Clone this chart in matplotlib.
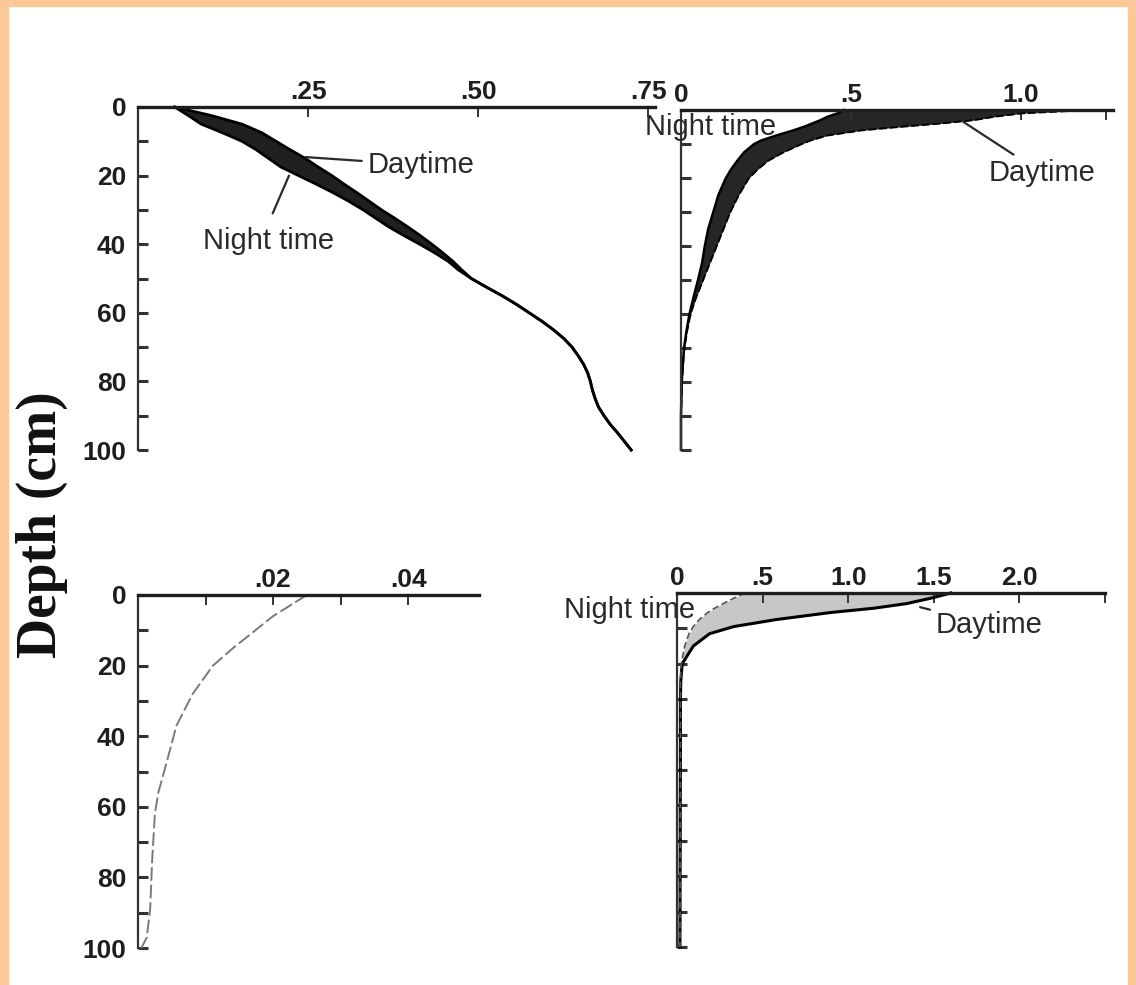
import matplotlib
matplotlib.use("Agg")
import matplotlib.pyplot as plt
from matplotlib.patches import Rectangle

# depth (cm) and values
p1_depth = [0, 2.5, 5, 7.5, 10, 12.5, 15, 17.5, 20, 22.5, 25, 27.5, 30, 32.5, 35, 37.5, 40,
            42.5, 45, 47.5, 50, 52.5, 55, 57.5, 60, 62.5, 65, 67.5, 70, 72.5, 75, 77.5, 80,
            82.5, 85, 87.5, 90, 92.5, 95, 97.5, 100]
p1_day = [0.054, 0.108, 0.153, 0.182, 0.203, 0.224, 0.246, 0.265, 0.285, 0.303, 0.322, 0.34,
          0.358, 0.378, 0.397, 0.415, 0.432, 0.448, 0.463, 0.476, 0.49, 0.512, 0.535, 0.556,
          0.575, 0.594, 0.611, 0.626, 0.638, 0.647, 0.655, 0.661, 0.665, 0.668, 0.672,
          0.677, 0.685, 0.694, 0.705, 0.715, 0.725]
p1_night = [0.054, 0.074, 0.093, 0.124, 0.153, 0.174, 0.192, 0.21, 0.236, 0.262, 0.287, 0.31,
            0.331, 0.35, 0.369, 0.391, 0.414, 0.436, 0.456, 0.471, 0.49, 0.512, 0.535, 0.556,
            0.575, 0.594, 0.611, 0.626, 0.638, 0.647, 0.655, 0.661, 0.665, 0.668, 0.672,
            0.677, 0.685, 0.694, 0.705, 0.715, 0.725]

p2_depth = [0, 1, 2, 3, 4, 5, 6, 7.5, 9, 10, 12.5, 15, 17.5, 20, 25, 30, 35, 40, 45, 50, 55,
            60, 65, 70, 75, 80, 90, 100]
p2_day = [1.2, 1.0, 0.92, 0.86, 0.76, 0.64, 0.53, 0.43, 0.38, 0.355, 0.3, 0.255, 0.225, 0.2,
          0.17, 0.145, 0.125, 0.105, 0.085, 0.065, 0.045, 0.028, 0.018, 0.01, 0.006, 0.003,
          0.0, 0.0]
p2_night = [0.48, 0.46, 0.43, 0.41, 0.385, 0.36, 0.33, 0.28, 0.235, 0.215, 0.185, 0.165,
            0.147, 0.132, 0.11, 0.095, 0.08, 0.07, 0.062, 0.05, 0.037, 0.025, 0.016, 0.009,
            0.005, 0.002, 0.0, 0.0]

p3_depth = [0, 6, 15, 20, 28, 37, 47, 56, 62, 75, 89, 97, 100]
p3_value = [0.025, 0.02, 0.0141, 0.0111, 0.0081, 0.0057, 0.0043, 0.003, 0.0025, 0.0021,
            0.0018, 0.0013, 0.0005]

p4_depth = [0, 1.5, 3, 4.3, 5.5, 7.5, 9.5, 11.5, 15, 20, 25, 30, 40, 50, 60, 70, 80, 90, 100]
p4_day = [1.6, 1.48, 1.34, 1.15, 0.9, 0.58, 0.33, 0.19, 0.095, 0.03, 0.022, 0.02, 0.02,
          0.02, 0.019, 0.019, 0.018, 0.018, 0.017]
p4_night = [0.4, 0.33, 0.27, 0.22, 0.18, 0.13, 0.095, 0.07, 0.045, 0.025, 0.02, 0.02, 0.02,
            0.02, 0.019, 0.019, 0.018, 0.018, 0.017]

# axis ticks and labels
depth_ticks = list(range(0, 101, 10))
depth_labels = ["0", "", "20", "", "40", "", "60", "", "80", "", "100"]
p1_xticks = [0.25, 0.50, 0.75]
p1_xlabels = [".25", ".50", ".75"]
p2_xticks = [0, 0.5, 1.0, 1.25]
p2_xlabels = ["0", ".5", "1.0", ""]
p3_xticks = [0.01, 0.02, 0.03, 0.04]
p3_xlabels = ["", ".02", "", ".04"]
p4_xticks = [0, 0.5, 1.0, 1.5, 2.0, 2.5]
p4_xlabels = ["0", ".5", "1.0", "1.5", "2.0", ""]

TICK_FONT = ["Liberation Sans", "DejaVu Sans"]
TEXT_FONT = ["Liberation Sans", "DejaVu Sans"]
INK = "#1e1e1e"


def style_axis(ax, xlim, xticks, xlabels, show_depth_labels):
    ax.set_xlim(*xlim)
    ax.set_ylim(100, 0)
    ax.xaxis.tick_top()
    ax.set_xticks(xticks)
    ax.set_xticklabels(xlabels)
    ax.set_yticks(depth_ticks)
    ax.set_yticklabels(depth_labels if show_depth_labels else [""] * len(depth_ticks))
    for side in ("right", "bottom"):
        ax.spines[side].set_visible(False)
    ax.spines["top"].set_linewidth(2.4)
    ax.spines["left"].set_linewidth(1.6)
    ax.spines["top"].set_color(INK)
    ax.spines["left"].set_color("#333333")
    ax.tick_params(axis="y", direction="in", length=7, width=2.2, color="#333333",
                   pad=8.5, labelsize=19)
    ax.tick_params(axis="x", direction="in", length=7, width=1.4, color="#333333",
                   pad=2.5, labelsize=19)
    for lab in ax.get_xticklabels() + ax.get_yticklabels():
        lab.set_family(TICK_FONT)
        lab.set_fontweight("bold")
        lab.set_color(INK)
    ax.set_facecolor("none")


def label(ax, text, xy, xytext, ha="left"):
    ax.annotate(text, xy=xy, xytext=xytext, ha=ha, va="center", fontsize=21,
                family=TEXT_FONT, color="#2a2a2a", annotation_clip=False,
                arrowprops=dict(arrowstyle="-", color="#2a2a2a", lw=1.6,
                                shrinkA=2, shrinkB=0))


def main():
    fig = plt.figure(figsize=(11.36, 9.85), dpi=100)
    fig.patch.set_facecolor("white")

    # peach frame on left, top and right edges
    peach = "#fdc898"
    W, H = 1136, 985
    fig.patches.append(Rectangle((0, 0), 8 / W, 1, transform=fig.transFigure, color=peach, zorder=0))
    fig.patches.append(Rectangle((1 - 8 / W, 0), 8 / W, 1, transform=fig.transFigure, color=peach, zorder=0))
    fig.patches.append(Rectangle((0, 1 - 6 / H), 1, 6 / H, transform=fig.transFigure, color=peach, zorder=0))

    ax1 = fig.add_axes([138 / W, 1 - 450 / H, 517 / W, 343 / H])
    ax2 = fig.add_axes([681 / W, 1 - 450 / H, 432 / W, 340 / H])
    ax3 = fig.add_axes([138 / W, 1 - 948 / H, 341 / W, 353 / H])
    ax4 = fig.add_axes([677 / W, 1 - 947 / H, 428 / W, 354 / H])

    # panel 1
    ax1.fill_betweenx(p1_depth, p1_night, p1_day, color="#202020", lw=0)
    ax1.plot(p1_day, p1_depth, color="black", lw=2.0, clip_on=False, solid_joinstyle="round")
    ax1.plot(p1_night, p1_depth, color="black", lw=2.0, clip_on=False, solid_joinstyle="round")
    style_axis(ax1, (0, 0.76), p1_xticks, p1_xlabels, True)
    label(ax1, "Daytime", (0.246, 14.6), (0.337, 16.9))
    ax1.text(0.096, 39.0, "Night time", ha="left", va="center", fontsize=21,
             family=TEXT_FONT, color="#2a2a2a")
    ax1.annotate("", xy=(0.222, 20.0), xytext=(0.198, 31.0),
                 arrowprops=dict(arrowstyle="-", color="#2a2a2a", lw=1.6,
                                 shrinkA=0, shrinkB=0))

    # panel 2
    ax2.fill_betweenx(p2_depth, p2_night, p2_day, color="#262626", lw=0)
    ax2.plot(p2_day, p2_depth, color="black", lw=1.4, ls=(0, (4, 1.5)), clip_on=False)
    ax2.plot(p2_night, p2_depth, color="black", lw=1.8, clip_on=False)
    style_axis(ax2, (0, 1.27), p2_xticks, p2_xlabels, False)
    ax2.text(-0.106, 5.0, "Night time", ha="left", va="center", fontsize=21,
             family=TEXT_FONT, color="#2a2a2a")
    label(ax2, "Daytime", (0.83, 3.5), (0.903, 18.5))

    # panel 3
    ax3.plot(p3_value, p3_depth, color="#7a7a7a", lw=1.4, ls=(0, (7, 2)), clip_on=False)
    style_axis(ax3, (0, 0.0505), p3_xticks, p3_xlabels, True)

    # panel 4
    ax4.fill_betweenx(p4_depth, p4_night, p4_day, color="#9a9a9a", alpha=0.55, lw=0)
    ax4.plot(p4_day, p4_depth, color="black", lw=2.2, clip_on=False)
    ax4.plot(p4_night, p4_depth, color="#555555", lw=1.2, ls=(0, (4, 2)), clip_on=False)
    style_axis(ax4, (0, 2.5), p4_xticks, p4_xlabels, False)
    ax4.text(0.105, 4.8, "Night time", ha="right", va="center", fontsize=21,
             family=TEXT_FONT, color="#2a2a2a")
    label(ax4, "Daytime", (1.42, 4.0), (1.51, 9.0))

    fig.text(42 / W, 1 - 525 / H, "Depth (cm)", rotation=90, ha="center", va="center",
             fontsize=40, fontweight="bold", family=["Liberation Serif", "DejaVu Serif"],
             color="#111111")

    plt.savefig("out.png", dpi=100)
    plt.close()


if __name__ == "__main__":
    main()
